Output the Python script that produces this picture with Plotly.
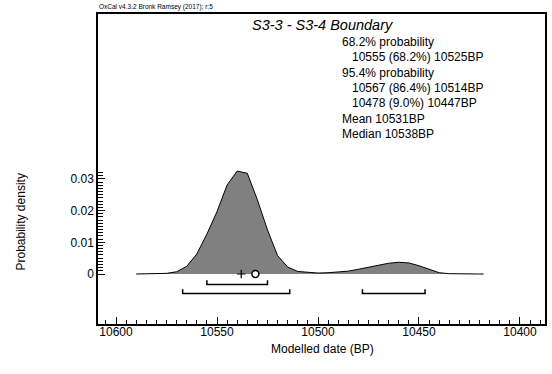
import plotly.graph_objects as go

# ---------------- data ----------------
years = [10590, 10585, 10580, 10575, 10570, 10565, 10560, 10555, 10550, 10545,
         10540, 10535, 10530, 10525, 10520, 10515, 10510, 10505, 10500, 10495,
         10490, 10485, 10480, 10475, 10470, 10465, 10460, 10455, 10450, 10445,
         10440, 10435, 10430, 10425, 10420, 10418]
density = [0.0, 0.0, 0.00005, 0.0002, 0.0007, 0.0024, 0.0063, 0.0126, 0.0197, 0.0281,
           0.0325, 0.0318, 0.0234, 0.0139, 0.0058, 0.0022, 0.0008, 0.0005, 0.0003, 0.0004,
           0.0006, 0.0009, 0.0015, 0.0021, 0.0028, 0.0034, 0.0037, 0.0035, 0.0026, 0.0014,
           0.0004, 0.0001, 0.0, 0.0, 0.0, 0.0]

range_68 = [(10555, 10525)]
range_95 = [(10567, 10514), (10478, 10447)]
median_bp = 10538
mean_bp = 10531

x_tickvals = [10600, 10550, 10500, 10450, 10400]
x_ticktext = ["10600", "10550", "10500", "10450", "10400"]
y_tickvals = [0, 0.01, 0.02, 0.03]
y_ticktext = ["0", "0.01", "0.02", "0.03"]

title_text = "S3-3 - S3-4 Boundary"
info_lines = [
    ("68.2% probability", 0),
    ("10555 (68.2%) 10525BP", 1),
    ("95.4% probability", 0),
    ("10567 (86.4%) 10514BP", 1),
    ("10478 (9.0%) 10447BP", 1),
    ("Mean 10531BP", 0),
    ("Median 10538BP", 0),
]
credit = "OxCal v4.3.2 Bronk Ramsey (2017); r:5"
x_title = "Modelled date (BP)"
y_title = "Probability density"

# ---------------- layout geometry ----------------
W, H = 552, 374
L, R, T, B = 98, 7, 14, 50
PW, PH = W - L - R, H - T - B
FONT = "Liberation Sans, Arial, Helvetica, sans-serif"


def px_x(p):
    return (p - L) / PW


def px_y(p):
    return (H - B - p) / PH


fig = go.Figure()

fig.add_trace(go.Scatter(
    x=years, y=density, mode="lines", fill="tozeroy",
    fillcolor="#808080", line=dict(color="black", width=1),
    hoverinfo="skip", showlegend=False))


def bracket_trace(ranges, ybase, h):
    xs, ys = [], []
    for a, b in ranges:
        xs += [a, a, b, b, None]
        ys += [ybase + h, ybase, ybase, ybase + h, None]
    return go.Scatter(x=xs, y=ys, mode="lines",
                      line=dict(color="black", width=1.5),
                      hoverinfo="skip", showlegend=False)


fig.add_trace(bracket_trace(range_68, -0.00330, 0.0013))
fig.add_trace(bracket_trace(range_95, -0.00615, 0.0013))

fig.add_trace(go.Scatter(
    x=[median_bp], y=[0], mode="markers",
    marker=dict(symbol="cross-thin", size=6, line=dict(color="black", width=1.2)),
    showlegend=False, hoverinfo="skip"))
fig.add_trace(go.Scatter(
    x=[mean_bp], y=[0], mode="markers",
    marker=dict(symbol="circle", size=7, color="white", line=dict(color="black", width=1.5)),
    showlegend=False, hoverinfo="skip"))

x_minor = [v for v in range(10605, 10385, -5) if v % 50 != 0]
y_minor = [round(i * 0.001, 3) for i in range(0, 33) if i % 10 != 0]

fig.update_layout(
    width=W, height=H,
    margin=dict(l=L, r=R, t=T, b=B, autoexpand=False),
    paper_bgcolor="white", plot_bgcolor="white",
    font=dict(family=FONT, color="black", size=12),
    showlegend=False,
    xaxis=dict(
        range=[10608.91, 10387.62], showgrid=False, zeroline=False,
        showline=True, linecolor="black", linewidth=1.5, mirror=True,
        ticks="inside", ticklen=7, tickwidth=1, tickcolor="black",
        tickmode="array", tickvals=x_tickvals, ticktext=x_ticktext,
        tickfont=dict(size=12, family=FONT, color="black"),
        ticklabelstandoff=-4,
        minor=dict(tickmode="array", tickvals=x_minor, ticks="inside",
                   ticklen=4, tickwidth=1, tickcolor="black", showgrid=False),
    ),
    yaxis=dict(
        range=[-0.01579, 0.0821], showgrid=False, zeroline=False,
        showline=True, linecolor="black", linewidth=1.5, mirror=True,
        ticks="inside", ticklen=7, tickwidth=1, tickcolor="black",
        tickmode="array", tickvals=y_tickvals, ticktext=y_ticktext,
        tickfont=dict(size=12, family=FONT, color="black"),
        minor=dict(tickmode="array", tickvals=y_minor, ticks="inside",
                   ticklen=5, tickwidth=1, tickcolor="black", showgrid=False),
    ),
)

ann = []
ann.append(dict(text="<i>" + title_text + "</i>", x=px_x(322), y=px_y(25),
                xanchor="center", yanchor="middle", font=dict(size=14.5)))
y0 = 41.7
for i, (txt, indent) in enumerate(info_lines):
    ann.append(dict(text=txt, x=px_x(340 + 10 * indent), y=px_y(y0 + i * 15.4),
                    xanchor="left", yanchor="middle", font=dict(size=12)))
ann.append(dict(text=credit, x=px_x(97), y=px_y(7.5), xanchor="left",
                yanchor="middle", font=dict(size=6.5)))
ann.append(dict(text=x_title, x=px_x(322.5), y=px_y(349), xanchor="center",
                yanchor="middle", font=dict(size=12)))
ann.append(dict(text=y_title, x=px_x(20), y=px_y(222.5), xanchor="center",
                yanchor="middle", textangle=-90, font=dict(size=12)))
for a in ann:
    a.update(xref="paper", yref="paper", showarrow=False)
fig.update_layout(annotations=ann)

fig.write_html("out.html")
